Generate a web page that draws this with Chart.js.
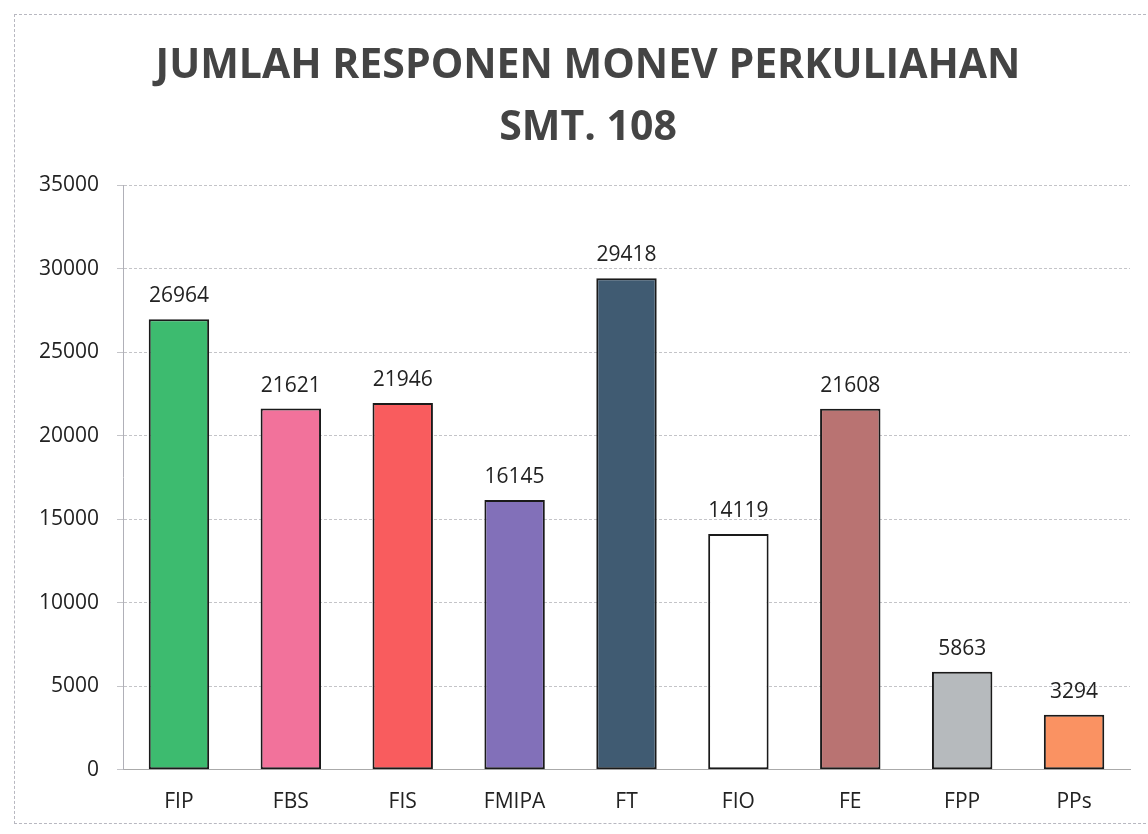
<!DOCTYPE html>
<html>
<head>
<meta charset="utf-8">
<script src="https://cdn.jsdelivr.net/npm/chart.js@4"></script>
<style>
  html, body { margin: 0; padding: 0; background: #fff; }
  #wrap { position: relative; width: 1148px; height: 834px; }
  #frame { position: absolute; left: 14px; top: 14px; width: 1160px; height: 808px; border: 1px dashed #b8b8c0; }
</style>
</head>
<body>
<div id="wrap">
  <div id="frame"></div>
  <canvas id="monevChart" width="1148" height="834"></canvas>
</div>
<script>
const faculties = ['FIP', 'FBS', 'FIS', 'FMIPA', 'FT', 'FIO', 'FE', 'FPP', 'PPs'];
const respondents = [26964, 21621, 21946, 16145, 29418, 14119, 21608, 5863, 3294];
const barColors = ['#3dbb6f', '#f2729b', '#f95c5e', '#8270b9', '#405b72', '#ffffff', '#b97372', '#b6babd', '#fa9262'];
const yTicks = [0, 5000, 10000, 15000, 20000, 25000, 30000, 35000];
const titleLines = ['JUMLAH RESPONEN MONEV PERKULIAHAN', 'SMT. 108'];

// judul digambar sendiri supaya posisinya bisa digeser sedikit ke kanan
const chartTitle = {
  id: 'chartTitle',
  afterDraw(chart) {
    const ctx = chart.ctx;
    ctx.save();
    ctx.font = 'bold 41px "Open Sans", sans-serif';
    ctx.fillStyle = '#444';
    ctx.textAlign = 'center';
    ctx.textBaseline = 'middle';
    ctx.fillText(titleLines[0], 588, 66);
    ctx.fillText(titleLines[1], 588, 128);
    ctx.restore();
  }
};

// angka di atas tiap batang
const valueLabels = {
  id: 'valueLabels',
  afterDatasetsDraw(chart) {
    const ctx = chart.ctx;
    const meta = chart.getDatasetMeta(0);
    ctx.save();
    ctx.font = '21px "Open Sans", sans-serif';
    ctx.fillStyle = '#222';
    ctx.textAlign = 'center';
    ctx.textBaseline = 'middle';
    meta.data.forEach((bar, i) => {
      ctx.fillText(String(respondents[i]), bar.x, bar.y - 23);
    });
    ctx.restore();
  }
};

const ctx = document.getElementById('monevChart').getContext('2d');
new Chart(ctx, {
  type: 'bar',
  data: {
    labels: faculties,
    datasets: [{
      data: respondents,
      backgroundColor: barColors,
      borderColor: '#1a1a1a',
      borderWidth: 2,
      borderSkipped: false,
      barPercentage: 0.54,
      categoryPercentage: 1
    }]
  },
  options: {
    responsive: false,
    animation: false,
    layout: { padding: { left: 3, right: 18, top: 185, bottom: 7 } },
    plugins: {
      legend: { display: false },
      tooltip: { enabled: false },
      title: { display: false }
    },
    scales: {
      x: {
        grid: { display: false },
        border: { color: '#aaa' },
        ticks: { color: '#222', font: { family: '"Open Sans", sans-serif', size: 21 }, padding: 12 }
      },
      y: {
        min: 0,
        max: 35000,
        afterBuildTicks: scale => { scale.ticks = yTicks.map(v => ({ value: v })); },
        afterFit: scale => { scale.width = 120; },
        grid: { color: '#c4c4c8', drawTicks: true, tickLength: 6 },
        border: { color: '#b0b0b8', dash: [3, 2] },
        ticks: {
          color: '#222',
          font: { family: '"Open Sans", sans-serif', size: 21 },
          padding: 18,
          callback: v => String(v)
        }
      }
    }
  },
  plugins: [valueLabels, chartTitle]
});
</script>
</body>
</html>
